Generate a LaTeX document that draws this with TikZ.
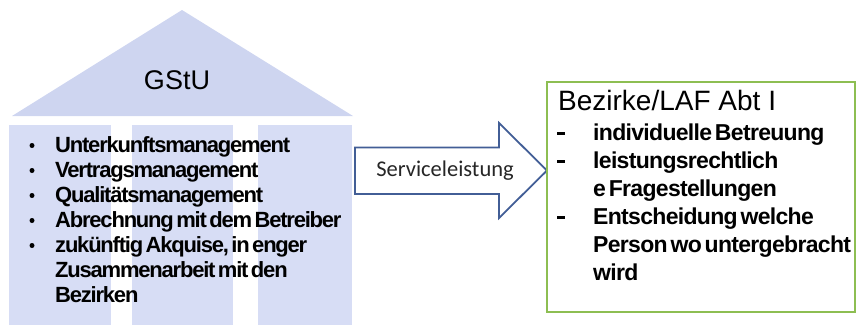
\documentclass[tikz,border=0pt]{standalone}
\usepackage{fontspec}
\setmainfont{Liberation Sans}
\newfontfamily\calibri{Carlito}
\newfontfamily\leftbold[LetterSpace=-5.5,WordSpace=0.5]{Liberation Sans}
\newfontfamily\rightbold[LetterSpace=-3,WordSpace=0.5]{Liberation Sans}
\usetikzlibrary{positioning}

\definecolor{roofblue}{RGB}{206,213,240}
\definecolor{bodyblue}{RGB}{215,221,245}
\definecolor{arrowblue}{RGB}{66,94,150}
\definecolor{boxgreen}{RGB}{141,190,82}

\begin{document}
\begin{tikzpicture}
	[x=1pt,y=-1pt,
		item/.style={anchor=base west,inner sep=0pt,font=\leftbold\bfseries\fontsize{22}{25}\selectfont},
		ritem/.style={anchor=base west,inner sep=0pt,font=\rightbold\bfseries\fontsize{23}{28}\selectfont},
		dot/.style={circle,fill=black,inner sep=0pt,minimum size=5pt},
		dashbar/.style={rectangle,fill=black,inner sep=0pt,minimum width=8pt,minimum height=3pt},
		greenbox/.style={draw=boxgreen,line width=2.5pt,fill=white,minimum width=308pt,minimum height=230pt},
		arrowline/.style={draw=arrowblue,line width=1.8pt,fill=white,line join=miter}]

	\useasboundingbox (0,0) rectangle (856,325);

	% house with roof and pillars
	\fill[roofblue] (12,116) -- (182,10) -- (353,116) -- cycle;
	\fill[bodyblue] (9,125) rectangle (352,325);
	\fill[white] (111,125) rectangle (132,325);
	\fill[white] (233,125) rectangle (258,325);

	\node[inner sep=0pt,font=\fontsize{27}{32}\selectfont] (gstu) at (177,80) {GStU};

	\foreach \t [count=\i] in {Unterkunftsmanagement, Vertragsmanagement,
		Qualitätsmanagement, Abrechnung mit dem Betreiber,
		{zukünftig Akquise, in enger}, Zusammenarbeit mit den, Bezirken}
		\node[item] (l\i) at (55,127+25*\i) {\t};
	\foreach \i in {1,...,5}
		\node[dot] (b\i) at (32,120.5+25*\i) {};

	% arrow
	\draw[arrowline] (355,147.5) -- (499,147.5) -- (499,123) -- (547,170.5)
		-- (499,218) -- (499,194) -- (355,194) -- cycle;
	\node[inner sep=0pt,font=\calibri\fontsize{22.5}{27}\selectfont,text=black!85] (svc) at (445,171) {Serviceleistung};

	% right box
	\node[greenbox] (bez) at (701,197) {};
	\node[anchor=base west,inner sep=0pt,font=\fontsize{28}{32}\selectfont] (btitle) at (558,110) {Bezirke/LAF Abt I};

	\foreach \t [count=\i] in {individuelle Betreuung, leistungsrechtlich,
		e Fragestellungen, Entscheidung welche, Person wo untergebracht, wird}
		\node[ritem] (r\i) at (593,112+28*\i) {\t};
	\foreach \i in {1,2,4}
		\node[dashbar] (d\i) at (561,105+28*\i) {};

\end{tikzpicture}
\end{document}
